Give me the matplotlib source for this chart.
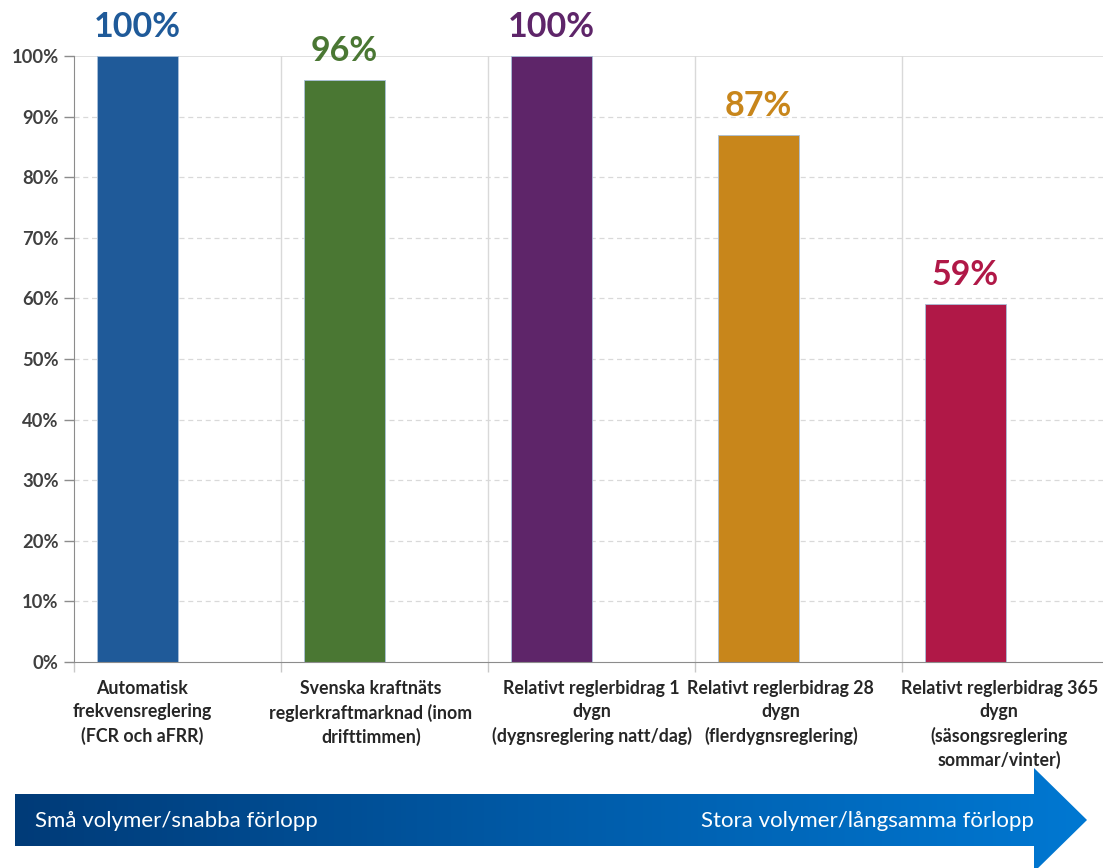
import matplotlib
matplotlib.use("Agg")
import matplotlib.pyplot as plt
import numpy as np
from matplotlib.patches import Polygon
from matplotlib.ticker import MultipleLocator, FuncFormatter
from matplotlib.colors import LinearSegmentedColormap

plt.rcParams['font.family'] = ['Lato', 'DejaVu Sans']

categories = [
    "Automatisk\nfrekvensreglering\n(FCR och aFRR)",
    "Svenska kraftnäts\nreglerkraftmarknad (inom\ndrifttimmen)",
    "Relativt reglerbidrag 1\ndygn\n(dygnsreglering natt/dag)",
    "Relativt reglerbidrag 28\ndygn\n(flerdygnsreglering)",
    "Relativt reglerbidrag 365\ndygn\n(säsongsreglering\nsommar/vinter)",
]
values = [1.00, 0.96, 1.00, 0.87, 0.59]
value_labels = ["100%", "96%", "100%", "87%", "59%"]
colors = ["#1F5A99", "#4A7733", "#5E2569", "#C8861B", "#B01847"]
label_offsets = [-0.17, -0.065, 0.0, -0.085, -0.03]
arrow_left_text = "Små volymer/snabba förlopp"
arrow_right_text = "Stora volymer/långsamma förlopp"

W, H = 1103, 868
fig = plt.figure(figsize=(W / 100, H / 100), dpi=100)
ax = fig.add_axes([74 / W, (H - 662) / H, 1035 / W, 606 / H])

x = np.arange(len(values))
bar_shift = -0.193
bar_w = 0.39
ax.bar(x + bar_shift, values, width=bar_w, color=colors, edgecolor="#A9C0DA",
       linewidth=0.6, zorder=3)

for xi, v, lab, c in zip(x, values, value_labels, colors):
    ax.annotate(lab, (xi + bar_shift, v), xytext=(0, 21), textcoords="offset points",
                ha="center", va="center", fontsize=24.5, fontweight="bold", color=c,
                annotation_clip=False)

ax.set_xlim(-0.5, len(values) - 0.5)
ax.set_ylim(0, 1.0)
ax.yaxis.set_major_locator(MultipleLocator(0.1))
ax.yaxis.set_major_formatter(FuncFormatter(lambda v, p: f"{int(round(v * 100))}%"))
ax.tick_params(axis="y", length=7, width=1, color="#8c8c8c", labelsize=13.2,
               labelcolor="#404040", pad=4)
for t in ax.get_yticklabels():
    t.set_fontweight("bold")

ax.set_xticks(np.arange(-0.5, len(values) + 0.5, 1.0))
ax.set_xticklabels([])
ax.tick_params(axis="x", length=7, width=1, color="#c8c8c8")

for yv in np.arange(0.1, 1.0, 0.1):
    ax.axhline(yv, color="#d9d9d9", linestyle=(0, (4, 3)), linewidth=0.9, zorder=1)
ax.axhline(1.0, color="#d9d9d9", linewidth=1.2, zorder=1)
for xb in np.arange(0.5, len(values), 1.0):
    ax.axvline(xb, color="#d9d9d9", linewidth=1, zorder=1)

for s in ["top", "right"]:
    ax.spines[s].set_visible(False)
ax.spines["left"].set_color("#8c8c8c")
ax.spines["bottom"].set_color("#8c8c8c")
ax.spines["left"].set_zorder(4)
ax.spines["bottom"].set_zorder(4)

for xi, lab, off in zip(x, categories, label_offsets):
    ax.text(xi + off, -0.03, lab, transform=ax.get_xaxis_transform(), ha="center",
            va="top", fontsize=12.8, fontweight="bold", color="#262626",
            linespacing=1.42, clip_on=False)

ov = fig.add_axes([0, 0, 1, 1], zorder=5)
ov.set_xlim(0, W)
ov.set_ylim(H, 0)
ov.axis("off")
ov.patch.set_alpha(0)
arrow_pts = [(15, 794), (1034, 794), (1034, 768), (1087, 820), (1034, 872),
             (1034, 846), (15, 846)]
poly = Polygon(arrow_pts, closed=True, facecolor="none", edgecolor="none")
ov.add_patch(poly)
cmap = LinearSegmentedColormap.from_list("arr", ["#003B78", "#005BA8", "#0078D2"])
grad = np.linspace(0, 1, 512).reshape(1, -1)
im = ov.imshow(grad, cmap=cmap, extent=(15, 1087, 872, 768), aspect="auto",
               interpolation="bicubic")
im.set_clip_path(poly)
ov.set_xlim(0, W)
ov.set_ylim(H, 0)
ov.text(35, 821, arrow_left_text, color="white", fontsize=16, va="center", ha="left")
ov.text(1034, 821, arrow_right_text, color="white", fontsize=16, va="center", ha="right")

fig.savefig("out.png", dpi=100)
